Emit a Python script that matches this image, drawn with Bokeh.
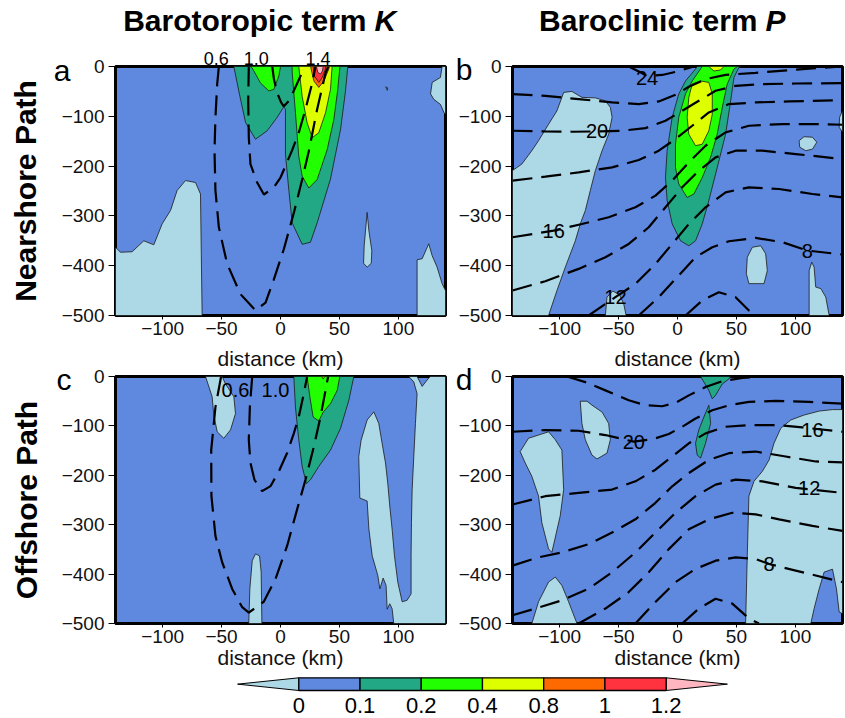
from bokeh.plotting import figure
from bokeh.models import Range1d, FixedTicker, ColumnDataSource, LinearAxis
from bokeh.layouts import column, row
from bokeh.embed import file_html
from bokeh.resources import INLINE
from bokeh.core.properties import value

# ---------------- data ----------------
X_TICKS = [-100, -50, 0, 50, 100]
X_TICK_LABELS = ["\u2212100", "\u221250", "0", "50", "100"]
Y_TICKS = [0, -100, -200, -300, -400, -500]
Y_TICK_LABELS = ["0", "\u2212100", "\u2212200", "\u2212300", "\u2212400", "\u2212500"]

COLUMN_TITLES = ["Barotoropic term", "Baroclinic term"]
COLUMN_SYMBOLS = ["K", "P"]
ROW_TITLES = ["Nearshore Path", "Offshore Path"]
PANEL_LETTERS = ["a", "b", "c", "d"]
X_LABEL = "distance (km)"

CB_TICK_LABELS = ["0", "0.1", "0.2", "0.4", "0.8", "1", "1.2"]
CB_BOX_LEVELS = ["b", "t", "g", "y", "o", "r"]

# filled contour regions: (level, x km, depth m)
A_FILLS = [
    ("lb", [-140, -135.8, -125.9, -116, -107.5, -100.4, -93.3, -87.7, -80.6, -72.1, -67.9, -66.5, -140],
           [-363, -373, -372, -350, -358, -316, -289, -249, -229, -233, -256, -500, -500]),
    ("lb", [115.9, 115.9, 120.2, 125.8, 128.7, 132.9, 137.1, 140, 140],
           [-500, -388, -386, -356, -380, -403, -436, -450, -500]),
    ("lb", [137.1, 135.7, 128.7, 127.3, 130.1, 135.7, 138.6, 140, 140],
           [0, -22, -32, -55, -66, -76, -92, -96, 0]),
    ("lb", [73.5, 75.0, 77.5, 77.0, 73.5, 70.5, 71.0, 72.5],
           [-293, -330, -370, -395, -403, -395, -360, -320]),
    ("lb", [89.3, 91.0, 90.6], [-41, -43, -48]),
    ("t", [-39.6, -35.4, -29.7, -21.2, -11.3, -2.8, 2.8, 4.2, 4.2, 7.1, 9.9, 18.4, 25.4, 31.1, 42.4, 50.9, 55.1, 57.1],
          [0, -49, -112, -146, -129, -102, -81, -86, -176, -249, -314, -357, -353, -314, -226, -127, -50, 0]),
    ("g", [-25.5, -24.0, -17.0, -9.9, -5.7, -1.4, 0.0], [0, -3, -33, -49, -46, -19, 0]),
    ("g", [9.9, 9.9, 12.7, 15.5, 18.4, 24.0, 31.1, 39.6, 45.2, 48.6, 50.3, 50.5],
          [0, -11, -93, -180, -220, -244, -227, -167, -107, -46, -3, 0]),
    ("y", [15.5, 18.4, 22.6, 26.9, 32.5, 38.2, 42.4, 43.8], [0, -60, -113, -143, -133, -93, -46, 0]),
    ("o", [25.5, 28.3, 32.5, 36.8, 41.0, 41.5], [0, -29, -42, -29, -5, 0]),
    ("r", [27.7, 28.8, 32.5, 35.4, 38.2, 38.2], [0, -19, -32, -22, -5, 0]),
    ("p", [30.5, 31.7, 33.9, 35.6, 36.2], [0, -12, -15, -9, 0]),
]
A_LINES = [
    ([-52.3, -53.7, -55.2, -56.0, -55.2, -52.3, -45.3, -34.0, -21.2, -12.7, -5.7, 2.8, 11.3, 18.4, 24.0, 31.1, 38.2, 40.5],
     [0, -35, -102, -169, -249, -323, -396, -457, -490, -474, -428, -367, -294, -227, -170, -86, -13, 0]),
    ([-26.9, -27.4, -26.9, -25.5, -19.8, -14.1, -5.7, 0.0, 9.9, 15.5, 21.2, 26.9, 29.7],
     [0, -69, -142, -196, -233, -257, -243, -223, -168, -133, -86, -33, 0]),
    ([-7.0, -5.6, -2.8, 0.5, 2.8, 6.0, 9.9, 17.0, 20.5],
     [0, -25, -53, -72, -80, -72, -56, -19, 0]),
]
A_TOP_LABELS = ["0.6", "1.0", "1.4"]
A_TOP_LABEL_X = [-54.4, -20.5, 31.8]

B_FILLS = [
    ("lb", [-140, -132.1, -123.6, -117.9, -109.4, -102.3, -98.1, -96.6, -89.6, -81.1, -69.7, -61.2, -57.0, -55.5,
            -58.4, -64.0, -69.7, -74.0, -78.2, -82.5, -86.7, -95.2, -102.3, -109.4, -140],
           [-209, -196, -169, -149, -116, -89, -62, -52, -50, -62, -63, -69, -82, -102,
            -136, -169, -209, -249, -289, -316, -350, -403, -450, -500, -500]),
    ("lb", [-61.2, -59.8, -55.0, -49.3, -45.6, -43.6], [-500, -463, -451, -458, -477, -500]),
    ("lb", [63.5, 70.6, 74.8, 76.2, 73.4, 60.6, 58.4, 59.2], [-363, -360, -376, -410, -436, -436, -416, -383]),
    ("lb", [103.2, 107.4, 114.5, 118.2, 114.5, 108.8, 103.7], [-149, -141, -142, -152, -166, -169, -162]),
    ("lb", [111.7, 111.7, 113.9, 115.9, 117.3, 121.6, 125.8, 128.7], [-500, -410, -393, -403, -443, -446, -463, -500]),
    ("lb", [140, 137.5, 137.2, 140], [-89, -102, -122, -132]),
    ("t", [16.7, 15.3, 6.8, 1.1, -4.5, -8.8, -10.2, -8.8, -4.5, 2.6, 9.6, 15.3, 21.0, 26.6, 33.7, 40.8, 45.1, 47.9, 52.1, 53.6],
          [0, -5, -29, -55, -102, -169, -223, -269, -316, -350, -360, -350, -316, -269, -203, -136, -69, -22, -2, 0]),
    ("g", [21.0, 12.5, 6.8, 1.1, -1.7, -1.7, 1.1, 8.2, 13.9, 21.0, 28.1, 33.7, 38.0, 42.2, 47.9, 50.7],
          [0, -29, -55, -102, -156, -203, -236, -263, -256, -223, -182, -136, -82, -35, -5, 0]),
    ("y", [12.5, 9.6, 8.2, 9.6, 15.3, 21.0, 26.6, 29.5, 29.5, 26.6, 19.6],
          [-35, -62, -102, -136, -159, -156, -129, -96, -55, -32, -29]),
    ("y", [26.6, 30.9, 36.5, 39.4], [0, -9, -7, 0]),
]
B_LINES = [
    ([-41.4, -32.9, -25.8, -13.0, -0.3, 11.1, 13.9], [0, -10, -19, -17, -10, -2, 0]),
    ([-140, -112.2, -83.9, -55.5, -32.9, -15.9, -1.7, 9.6, 23.8, 40.8, 66.3, 94.7, 117.3, 140],
     [-55.5, -58.8, -65.5, -72.2, -75.5, -70.2, -56.8, -40.8, -25.4, -16.7, -12.7, -7.4, -3.3, 0]),
    ([-140, -112.2, -89.6, -68.3, -47.0, -27.2, -10.2, 4.0, 18.1, 32.3, 49.3, 72.0, 100.3, 140],
     [-129, -130.3, -131, -130.3, -129, -123.7, -109, -88.9, -68.8, -48.8, -38.8, -35.4, -34.1, -33.4]),
    ([-140, -112.2, -83.9, -55.5, -32.9, -15.9, -1.7, 12.5, 26.6, 43.6, 66.3, 94.7, 140],
     [-229.3, -221.2, -212.6, -202.5, -187.8, -169.1, -145.7, -119, -92.2, -75.5, -72.2, -70.2, -67.5]),
    ([-140, -105.1, -81.1, -58.4, -35.7, -18.7, -4.5, 9.6, 23.8, 40.8, 60.6, 89.0, 117.3, 140],
     [-342.9, -329.5, -316.2, -302.8, -282.7, -259.3, -229.3, -192.5, -159.1, -132.3, -119, -115.6, -115.6, -117]),
    ([-140, -112.2, -83.9, -61.2, -41.4, -24.4, -10.2, 4.0, 18.1, 32.3, 49.3, 72.0, 100.3, 140],
     [-449.8, -431.1, -406.4, -383, -356.3, -322.8, -282.7, -242.6, -209.2, -182.5, -169.1, -169.1, -175.8, -185.8]),
    ([-75.4, -52.7, -35.7, -18.7, -4.5, 9.6, 23.8, 40.8, 60.6, 86.2, 114.5, 140],
     [-500, -463.2, -436.5, -396.4, -356.3, -316.2, -282.7, -252.7, -242.6, -246, -256, -262.7]),
    ([-32.9, -15.9, -0.3, 15.3, 29.5, 43.6, 66.3, 89.0, 110.2, 140],
     [-500, -463.2, -423.1, -383, -362.9, -350.9, -344.2, -352.9, -369.6, -377.6]),
    ([6.8, 21.0, 35.1, 49.3, 60.6, 69.1], [-500, -469.9, -453.2, -463.2, -489.9, -500]),
]
B_LABELS = [("24", -25.8, -23), ("20", -68.3, -129), ("16", -105.1, -330), ("12", -52.7, -463), ("8", 110.2, -370)]

C_FILLS = [
    ("lb", [-63.6, -58.0, -56.6, -53.7, -48.1, -42.4, -38.2, -39.6, -46.7, -49.5],
           [0, -41, -78, -112, -125, -108, -75, -41, -15, 0]),
    ("lb", [-26.9, -26.0, -24.0, -21.2, -17.8, -16.4, -15.8], [-500, -430, -373, -359, -363, -396, -500]),
    ("lb", [79.2, 83.4, 86.2, 89.1, 91.0, 92.7, 94.7, 96.7, 99.5, 103.2, 107.4, 110.8, 110.8, 111.1, 111.7, 113.1,
            114.5, 115.9, 113.1, 108.9, 115.9, 120.2, 125.8, 127.2, 140, 140, 96.1, 94.7, 92.7, 90.5, 89.6, 87.1,
            84.3, 82.6, 77.8, 75.0, 73.5, 67.3, 66.4, 68.4, 73.5],
           [-71.6, -95, -135, -175, -216, -262, -309, -363, -416, -456, -453, -440, -363, -296, -229, -162,
            -95, -35, -11, 0, 0, -20, -3, 0, 0, -500, -500, -470, -460, -471, -423, -408,
            -430, -403, -363, -309, -252, -246, -162, -129, -88]),
    ("t", [11.3, 12.7, 15.5, 18.4, 22.0, 25.4, 32.5, 42.4, 50.9, 58.0, 62.2],
          [0, -62, -128, -182, -217, -209, -182, -149, -105, -48, 0]),
    ("g", [22.6, 24.9, 27.7, 32.5, 36.2, 42.4, 48.1, 50.3], [0, -41, -82, -90, -72, -55, -28, 0]),
    ("y", [35.0, 36.2, 37.5], [0, -5, 0]),
]
C_LINES = [
    ([-50.4, -55.2, -58.8, -58.6, -55.2, -49.5, -41.0, -32.5, -26.9, -14.2, -4.3, 5.6, 14.1, 21.2, 28.3, 33.9, 38.2, 40.4],
     [0, -62, -149, -242, -323, -376, -430, -467, -478, -456, -410, -343, -269, -209, -142, -82, -28, 0]),
    ([-24.0, -26.0, -26.9, -25.5, -22.1, -15.6, -8.5, -1.4, 5.6, 11.3, 15.5, 19.2, 22.6],
     [0, -62, -128, -175, -209, -232, -222, -192, -155, -115, -82, -41, 0]),
]
C_LABELS = [("0.6", -38.2, -27), ("1.0", -4.3, -27)]

D_FILLS = [
    ("lb", [-82.5, -76.8, -72.6, -64.0, -58.4, -57.0, -59.8, -68.3, -72.6, -78.2, -81.1],
           [-50, -50, -58, -72, -95, -128, -155, -167, -159, -128, -95]),
    ("lb", [-133.5, -126.4, -109.4, -103.7, -98.1, -96.6, -99.5, -106.6, -109.4, -115.1, -117.9, -123.6, -129.2],
           [-152, -125, -112, -128, -149, -229, -282, -356, -349, -296, -242, -202, -175]),
    ("lb", [-123.6, -117.9, -109.4, -103.7, -98.1, -92.4, -85.3], [-500, -456, -416, -406, -423, -456, -500]),
    ("lb", [57.8, 59.2, 60.6, 64.9, 72.0, 77.7, 81.9, 87.6, 96.1, 107.4, 120.2, 131.5, 140, 140, 137.2, 134.9,
            131.5, 124.4, 120.2, 115.9, 113.1],
           [-500, -363, -242, -212, -192, -169, -135, -105, -88, -78, -70, -67, -67, -480, -477, -430,
            -390, -396, -430, -470, -500]),
    ("t", [19.6, 26.6, 29.5, 32.3, 38.0, 43.6, 45.1], [0, -28, -45, -38, -15, -5, 0]),
    ("t", [26.6, 28.1, 23.8, 19.6, 16.7, 15.3, 18.1, 22.4], [-58, -95, -135, -165, -159, -135, -108, -82]),
]
D_LINES = [
    ([-93.8, -78.2, -61.2, -41.4, -27.2, -13.0, -1.7, 9.6, 23.8, 38.0, 55.0, 72.0],
     [0, -11.4, -28.1, -48.2, -58.2, -60.2, -53.5, -38.2, -21.4, -9.4, -2.7, 0]),
    ([-140, -112.2, -83.9, -61.2, -37.1, -21.5, -7.4, 4.0, 15.3, 29.5, 43.6, 60.6, 83.3, 111.7, 140],
     [-111.8, -108.4, -109.8, -118.5, -131.9, -127.2, -116.5, -101.7, -85, -68.3, -58.2, -51.5, -49.5, -51.5, -54.9]),
    ([-140, -112.2, -83.9, -55.5, -35.7, -18.7, -4.5, 9.6, 23.8, 40.8, 60.6, 86.2, 106.0, 140],
     [-259, -242.3, -235.6, -228.9, -212.2, -188.7, -162, -135.2, -115.1, -101.7, -98.4, -98.4, -103.1, -111.8]),
    ([-140, -117.9, -98.1, -75.4, -55.5, -35.7, -18.7, -4.5, 9.6, 26.6, 43.6, 66.3, 91.8, 117.3, 140],
     [-382.8, -366.1, -356.1, -339.3, -315.9, -289.1, -255.7, -222.2, -195.4, -168.7, -155.3, -151.9, -162, -172, -174]),
    ([-140, -120.7, -98.1, -75.4, -55.5, -35.7, -18.7, -1.7, 15.3, 32.3, 49.3, 72.0, 100.3, 140],
     [-483.2, -469.8, -453.1, -429.7, -396.2, -356.1, -315.9, -275.8, -242.3, -218.9, -208.8, -212.2, -225.6, -235.6]),
    ([-83.9, -61.2, -41.4, -24.4, -7.4, 9.6, 26.6, 46.5, 66.3, 86.2, 114.5, 140],
     [-500, -469.8, -436.4, -396.2, -349.4, -309.2, -289.1, -275.8, -279.1, -289.1, -302.5, -312.6]),
    ([-35.7, -18.7, -1.7, 15.3, 32.3, 49.3, 66.3, 77.7, 100.3, 140],
     [-500, -456.5, -416.3, -389.5, -372.8, -366.1, -369.4, -379.5, -392.9, -416.3]),
    ([4.0, 18.1, 32.3, 46.5, 60.6, 69.1], [-500, -469.8, -449.8, -459.8, -489.9, -500]),
]
D_LABELS = [("20", -37.1, -132), ("16", 114.5, -108), ("12", 111.7, -226), ("8", 77.7, -380)]

# ---------------- styling ----------------
FILL = {"lb": "#add8e6", "b": "#5f88df", "t": "#22a884", "g": "#22ff00",
        "y": "#ddff00", "o": "#ff6a00", "r": "#ff3340", "p": "#ffb6c1"}
FONT = "Liberation Sans"


def style_xlabel(ax, standoff):
    ax.axis_label = X_LABEL
    ax.axis_label_text_font = FONT
    ax.axis_label_text_font_size = "21px"
    ax.axis_label_text_font_style = "normal"
    ax.axis_label_text_color = "#111111"
    ax.axis_label_standoff = standoff


def panel(width, height, left, right, top, bottom, with_xlabel):
    p = figure(width=width, height=height, x_range=Range1d(-140, 140), y_range=Range1d(-500, 0),
               output_backend="svg", toolbar_location=None, tools="", title=None,
               min_border_left=left, min_border_right=right,
               min_border_top=top, min_border_bottom=bottom)
    p.background_fill_color = FILL["b"]
    p.border_fill_color = "white"
    p.outline_line_color = "black"
    p.outline_line_width = 3
    p.grid.visible = False
    xa, ya = p.below[0], p.left[0]
    for ax in (xa, ya):
        ax.axis_line_color = None
        ax.major_tick_in = 0
        ax.minor_tick_line_color = None
        ax.major_tick_line_color = "black"
        ax.major_label_text_font = FONT
        ax.major_label_text_font_size = "19px"
        ax.major_label_text_color = "#111111"
    xa.ticker = FixedTicker(ticks=X_TICKS)
    ya.ticker = FixedTicker(ticks=Y_TICKS)
    xa.major_label_overrides = dict(zip(X_TICKS, X_TICK_LABELS))
    ya.major_label_overrides = dict(zip(Y_TICKS, Y_TICK_LABELS))
    xa.major_tick_out = 4
    ya.major_tick_out = 7
    xa.major_label_standoff = 2
    ya.major_label_standoff = 4
    if with_xlabel:
        style_xlabel(xa, 0)
    return p


def xlabel_above(p):
    # x-axis title of the panel above, written in the gap between the two rows
    ax = LinearAxis(ticker=FixedTicker(ticks=[]), axis_line_color=None, major_tick_line_color=None,
                    minor_tick_line_color=None, major_tick_out=0, major_tick_in=0, major_label_standoff=0)
    style_xlabel(ax, 7)
    p.add_layout(ax, "above")


def letter_axis(p, letter, depth, standoff, row_title=None, title_standoff=0):
    ax = LinearAxis(ticker=FixedTicker(ticks=[depth]), major_label_overrides={depth: letter},
                    major_tick_line_color=None, minor_tick_line_color=None, axis_line_color=None,
                    major_tick_out=0, major_tick_in=0, major_label_standoff=standoff,
                    major_label_text_font=FONT, major_label_text_font_size="30px",
                    major_label_text_color="black")
    if row_title:
        ax.axis_label = row_title
        ax.axis_label_text_font = FONT
        ax.axis_label_text_font_size = "30px"
        ax.axis_label_text_font_style = "bold"
        ax.axis_label_text_color = "black"
        ax.axis_label_standoff = title_standoff
    p.add_layout(ax, "left")


def draw(p, fills, lines, labels):
    src = ColumnDataSource(dict(xs=[f[1] for f in fills], ys=[f[2] for f in fills],
                                color=[FILL[f[0]] for f in fills]))
    p.patches("xs", "ys", source=src, fill_color="color", line_color="#1b1b1b", line_width=0.8)
    p.multi_line([l[0] for l in lines], [l[1] for l in lines], line_color="black",
                 line_width=2.2, line_dash="20 9")
    if labels:
        p.text(x=[l[1] for l in labels], y=[l[2] for l in labels], text=[l[0] for l in labels],
               text_font=value(FONT), text_font_size="20px", text_align="center",
               text_baseline="middle", text_color="black")


fa = panel(450, 299, 115, 5, 22, 28, False)
fb = panel(395, 299, 62, 3, 22, 28, False)
fc = panel(450, 332, 115, 5, 31, 52, True)
fd = panel(395, 332, 62, 3, 31, 52, True)
xlabel_above(fc)
xlabel_above(fd)

draw(fa, A_FILLS, A_LINES, None)
draw(fb, B_FILLS, B_LINES, B_LABELS)
draw(fc, C_FILLS, C_LINES, C_LABELS)
draw(fd, D_FILLS, D_LINES, D_LABELS)

letter_axis(fa, PANEL_LETTERS[0], -8, -12, ROW_TITLES[0], 9)
letter_axis(fb, PANEL_LETTERS[1], -6, -17)
letter_axis(fc, PANEL_LETTERS[2], -6, -13, ROW_TITLES[1], 11)
letter_axis(fd, PANEL_LETTERS[3], -6, -17)

# contour values written above panel a
top_ax = LinearAxis(ticker=FixedTicker(ticks=A_TOP_LABEL_X),
                    major_label_overrides=dict(zip(A_TOP_LABEL_X, A_TOP_LABELS)),
                    major_tick_line_color=None, minor_tick_line_color=None, axis_line_color=None,
                    major_tick_out=0, major_tick_in=0, major_label_standoff=2,
                    major_label_text_font=FONT, major_label_text_font_size="18px",
                    major_label_text_color="black")
fa.add_layout(top_ax, "above")

# column titles strip
ts = figure(width=845, height=44, x_range=Range1d(0, 845), y_range=Range1d(44, 0),
            x_axis_type=None, y_axis_type=None, output_backend="svg", toolbar_location=None,
            tools="", title=None, min_border=0)
ts.outline_line_color = None
ts.text(x=[366, 757], y=[20, 20], text=COLUMN_TITLES, text_font=value(FONT), text_font_size="30px",
        text_font_style="bold", text_align="right", text_baseline="middle", text_color="black")
ts.text(x=[374, 765], y=[20, 20], text=COLUMN_SYMBOLS, text_font=value(FONT), text_font_size="30px",
        text_font_style="bold italic", text_align="left", text_baseline="middle", text_color="black")

# colour bar
n = len(CB_BOX_LEVELS)
cb = figure(width=845, height=43, x_range=Range1d(-4.872, 8.929), y_range=Range1d(43, 0),
            x_axis_type=None, y_axis_type=None, output_backend="svg", toolbar_location=None,
            tools="", title=None, min_border=0)
cb.outline_line_color = None
cb.patch([-1, 0, 0], [8.65, 2.3, 15], fill_color=FILL["lb"], line_color="black", line_width=1)
cb.patch([n, n + 1, n], [2.3, 8.65, 15], fill_color=FILL["p"], line_color="black", line_width=1)
cb.quad(left=list(range(n)), right=[i + 1 for i in range(n)], top=2.3, bottom=15,
        fill_color=[FILL[k] for k in CB_BOX_LEVELS], line_color="black", line_width=1.3)
cb.text(x=list(range(len(CB_TICK_LABELS))), y=30, text=CB_TICK_LABELS, text_font=value(FONT),
        text_font_size="22px", text_align="center", text_baseline="middle", text_color="black")

layout = column(ts, row(fa, fb), row(fc, fd), cb)
open("out.html", "w").write(file_html(layout, INLINE))
